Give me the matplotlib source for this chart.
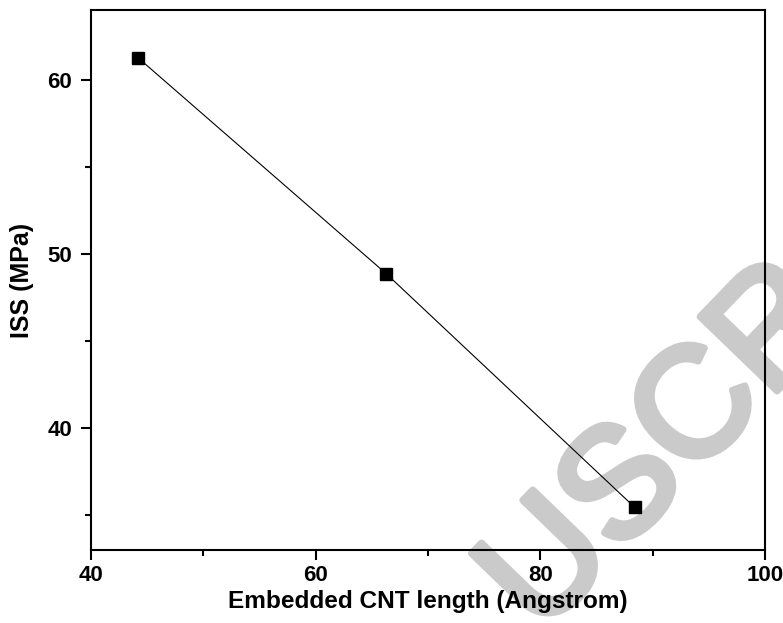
import matplotlib
matplotlib.use('Agg')
import matplotlib.pyplot as plt
import matplotlib.patheffects as pe
from matplotlib.ticker import MultipleLocator

# data
cnt_length = [44.2, 66.3, 88.4]
iss = [61.25, 48.85, 35.45]

plt.rcParams['font.family'] = ['Liberation Sans', 'DejaVu Sans']
plt.rcParams['font.weight'] = 'bold'

fig = plt.figure(figsize=(7.83, 6.23), dpi=100)
ax = fig.add_axes([0.1162, 0.1172, 0.8608, 0.8668])

# faint watermark behind the data
wm = ax.text(0.848, 0.278, 'USCR', transform=fig.transFigure, fontsize=112,
             fontweight='normal', color='#cacaca', rotation=46, ha='center',
             va='center', zorder=0, clip_on=False)
wm.set_path_effects([pe.withStroke(linewidth=5, foreground='#cacaca')])

ax.plot(cnt_length, iss, color='black', linewidth=0.8, marker='s',
        markersize=8, markerfacecolor='black', markeredgecolor='black', zorder=3)

ax.set_xlim(40, 100)
ax.set_ylim(33, 64)
ax.xaxis.set_major_locator(MultipleLocator(20))
ax.xaxis.set_minor_locator(MultipleLocator(10))
ax.yaxis.set_major_locator(MultipleLocator(10))
ax.yaxis.set_minor_locator(MultipleLocator(5))

ax.tick_params(which='major', direction='out', length=7, width=1.5, labelsize=16)
ax.tick_params(which='minor', direction='out', length=4, width=1.5)
ax.tick_params(axis='x', which='major', pad=4)
ax.tick_params(axis='y', which='major', pad=6.5)
for s in ax.spines.values():
    s.set_linewidth(1.5)
    s.set_zorder(4)

ax.set_xlabel('Embedded CNT length (Angstrom)', fontsize=17.6, fontweight='bold', labelpad=3)
ax.set_ylabel('ISS (MPa)', fontsize=18, fontweight='bold', labelpad=10)

fig.savefig('out.png', dpi=100)
